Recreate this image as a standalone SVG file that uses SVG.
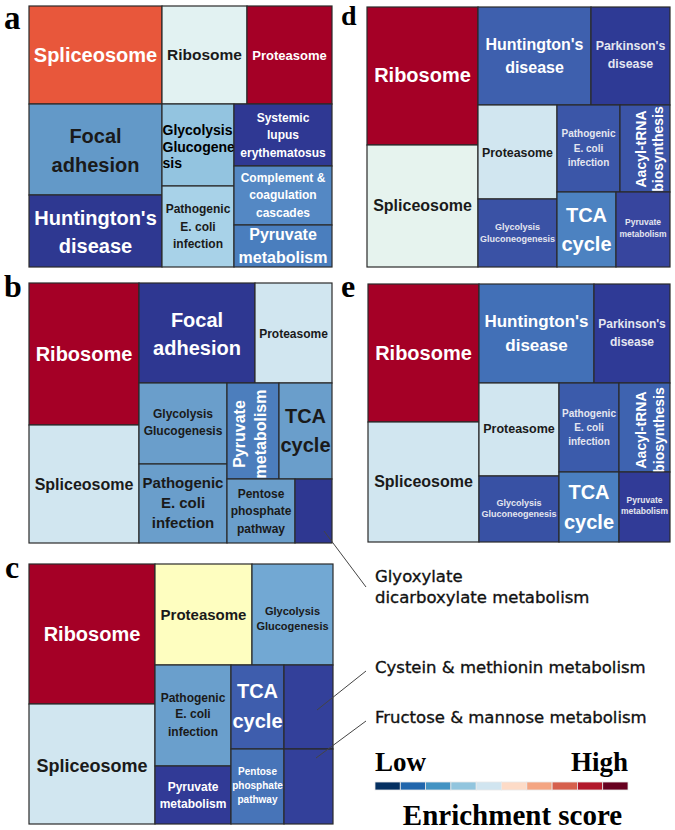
<svg xmlns="http://www.w3.org/2000/svg" width="675" height="830" viewBox="0 0 675 830">
<style>
text{font-family:"Liberation Sans",Arial,sans-serif;font-weight:bold;text-anchor:middle}
.w{fill:#fff}.k{fill:#1a1a1a}.l{fill:#e4e6f0}.s{text-anchor:start}
rect.b{stroke:#2a2a2a;stroke-width:1.2}
.lab{font-family:"Liberation Serif","Times New Roman",serif;font-weight:bold;fill:#000;text-anchor:start}
.leg{font-family:"DejaVu Sans",sans-serif;font-weight:normal;fill:#111;stroke:#111;stroke-width:0.35;text-anchor:start;font-size:16.5px}
.con{stroke:#444;stroke-width:1;fill:none}
.bar{stroke:#e8e8e8;stroke-width:0.8}
</style>
<rect width="675" height="830" fill="#fff"/>

<!-- Panel a -->
<g id="panel-a">
<text class="lab" x="4" y="29" font-size="33">a</text>
<g id="a-spliceosome"><rect class="b" x="29" y="6" width="133" height="98" fill="#E8573B"/><text class="w" x="95.5" y="62" font-size="20">Spliceosome</text></g>
<g id="a-ribosome"><rect class="b" x="162" y="6" width="85" height="98" fill="#E2F2F2"/><text class="k" x="204.5" y="60" font-size="15.5">Ribosome</text></g>
<g id="a-proteasome"><rect class="b" x="247" y="6" width="85" height="98" fill="#A50026"/><text class="w" x="289.5" y="60" font-size="13">Proteasome</text></g>
<g id="a-focal"><rect class="b" x="29" y="104" width="133" height="91" fill="#6399C8"/><text class="k" x="95.5" y="143" font-size="20">Focal</text><text class="k" x="95.5" y="172" font-size="20">adhesion</text></g>
<g id="a-huntington"><rect class="b" x="29" y="195" width="133" height="72" fill="#2E3891"/><text class="w" x="95.5" y="225" font-size="20">Huntington's</text><text class="w" x="95.5" y="253" font-size="20">disease</text></g>
<g id="a-glycolysis"><rect class="b" x="162" y="104" width="72" height="82" fill="#93C4E0"/><text class="s" fill="#000" x="162.5" y="135" font-size="14">Glycolysis</text><text class="s" fill="#000" x="162.5" y="152" font-size="14">Glucogene</text><text class="s" fill="#000" x="162.5" y="168" font-size="14">sis</text></g>
<g id="a-pathogenic"><rect class="b" x="162" y="186" width="72" height="81" fill="#A8D2E8"/><text class="k" x="198" y="213" font-size="12">Pathogenic</text><text class="k" x="198" y="231" font-size="12">E. coli</text><text class="k" x="198" y="248" font-size="12">infection</text></g>
<g id="a-systemic"><rect class="b" x="234" y="104" width="98" height="62" fill="#2F3893"/><text class="w" x="283" y="122" font-size="12">Systemic</text><text class="w" x="283" y="139" font-size="12">lupus</text><text class="w" x="283" y="157" font-size="12">erythematosus</text></g>
<g id="a-complement"><rect class="b" x="234" y="166" width="98" height="59" fill="#5488C4"/><text class="w" x="283" y="182" font-size="12">Complement &amp;</text><text class="w" x="283" y="199" font-size="12">coagulation</text><text class="w" x="283" y="217" font-size="12">cascades</text></g>
<g id="a-pyruvate"><rect class="b" x="234" y="225" width="98" height="42" fill="#4A7EBE"/><text class="w" x="283" y="240" font-size="16">Pyruvate</text><text class="w" x="283" y="263" font-size="16">metabolism</text></g>
</g>

<!-- Panel b -->
<g id="panel-b">
<text class="lab" x="4" y="297" font-size="32">b</text>
<g id="b-ribosome"><rect class="b" x="29" y="283" width="110" height="142" fill="#A50026"/><text class="w" x="84" y="361" font-size="20">Ribosome</text></g>
<g id="b-spliceosome"><rect class="b" x="29" y="425" width="110" height="118" fill="#D1E6F0"/><text class="k" x="84" y="490" font-size="16">Spliceosome</text></g>
<g id="b-focal"><rect class="b" x="139" y="283" width="116" height="100" fill="#2E3791"/><text class="w" x="197" y="327" font-size="20">Focal</text><text class="w" x="197" y="355" font-size="20">adhesion</text></g>
<g id="b-proteasome"><rect class="b" x="255" y="283" width="77" height="100" fill="#D1E6F0"/><text class="k" x="293.5" y="338" font-size="12">Proteasome</text></g>
<g id="b-glycolysis"><rect class="b" x="139" y="383" width="88" height="81" fill="#6A9ECB"/><text class="k" x="183" y="418" font-size="12">Glycolysis</text><text class="k" x="183" y="435" font-size="12">Glucogenesis</text></g>
<g id="b-pathogenic"><rect class="b" x="139" y="464" width="88" height="79" fill="#6A9ECB"/><text class="k" x="183" y="488" font-size="15">Pathogenic</text><text class="k" x="183" y="508" font-size="15">E. coli</text><text class="k" x="183" y="528" font-size="15">infection</text></g>
<g id="b-pyruvate"><rect class="b" x="227" y="383" width="52" height="96" fill="#4C7EBD"/><text class="w" transform="translate(245,434) rotate(-90)" font-size="16">Pyruvate</text><text class="w" transform="translate(266,434) rotate(-90)" font-size="16">metabolism</text></g>
<g id="b-tca"><rect class="b" x="279" y="383" width="53" height="96" fill="#6A9ECB"/><text class="k" x="305.5" y="423" font-size="20">TCA</text><text class="k" x="305.5" y="452" font-size="20">cycle</text></g>
<g id="b-pentose"><rect class="b" x="227" y="479" width="68" height="64" fill="#6A9ECB"/><text class="k" x="261" y="498" font-size="12">Pentose</text><text class="k" x="261" y="515" font-size="12">phosphate</text><text class="k" x="261" y="533" font-size="12">pathway</text></g>
<g id="b-glyoxylate"><rect class="b" x="295" y="479" width="37" height="64" fill="#2E3791"/></g>
</g>

<!-- Panel c -->
<g id="panel-c">
<text class="lab" x="5" y="578" font-size="32">c</text>
<g id="c-ribosome"><rect class="b" x="29" y="564" width="126" height="140" fill="#A50026"/><text class="w" x="92" y="641" font-size="20">Ribosome</text></g>
<g id="c-spliceosome"><rect class="b" x="29" y="704" width="126" height="120" fill="#D1E6F0"/><text class="k" x="92" y="772" font-size="18">Spliceosome</text></g>
<g id="c-proteasome"><rect class="b" x="155" y="564" width="97" height="101" fill="#FEFEC0"/><text class="k" x="203.5" y="620" font-size="15">Proteasome</text></g>
<g id="c-glycolysis"><rect class="b" x="252" y="564" width="81" height="101" fill="#72A8D3"/><text class="k" x="292.5" y="615" font-size="11">Glycolysis</text><text class="k" x="292.5" y="630" font-size="11">Glucogenesis</text></g>
<g id="c-pathogenic"><rect class="b" x="155" y="665" width="76" height="101" fill="#6A9FCC"/><text class="k" x="193" y="702" font-size="12">Pathogenic</text><text class="k" x="193" y="718" font-size="12">E. coli</text><text class="k" x="193" y="736" font-size="12">infection</text></g>
<g id="c-pyruvate"><rect class="b" x="155" y="766" width="76" height="58" fill="#313A96"/><text class="w" x="193" y="791" font-size="12">Pyruvate</text><text class="w" x="193" y="808" font-size="12">metabolism</text></g>
<g id="c-tca"><rect class="b" x="231" y="665" width="53" height="84" fill="#3E5DAD"/><text class="w" x="257.5" y="698" font-size="20">TCA</text><text class="w" x="257.5" y="728" font-size="20">cycle</text></g>
<g id="c-pentose"><rect class="b" x="231" y="749" width="53" height="75" fill="#4774B8"/><text class="w" x="257.5" y="775" font-size="10">Pentose</text><text class="w" x="257.5" y="789" font-size="10">phosphate</text><text class="w" x="257.5" y="803" font-size="10">pathway</text></g>
<g id="c-cystein"><rect class="b" x="284" y="665" width="49" height="84" fill="#33409A"/></g>
<g id="c-fructose"><rect class="b" x="284" y="749" width="49" height="75" fill="#33409A"/></g>
</g>

<!-- Panel d -->
<g id="panel-d">
<text class="lab" x="341" y="25" font-size="28">d</text>
<g id="d-ribosome"><rect class="b" x="367" y="7" width="111" height="138" fill="#A50026"/><text class="w" x="422.5" y="82" font-size="20">Ribosome</text></g>
<g id="d-spliceosome"><rect class="b" x="367" y="145" width="111" height="122" fill="#E6F3EE"/><text class="k" x="422.5" y="211" font-size="16">Spliceosome</text></g>
<g id="d-huntington"><rect class="b" x="478" y="7" width="113" height="98" fill="#3E60AE"/><text class="w" x="534.5" y="50" font-size="16">Huntington's</text><text class="w" x="534.5" y="73" font-size="16">disease</text></g>
<g id="d-parkinson"><rect class="b" x="591" y="7" width="79" height="98" fill="#2E3A95"/><text class="l" x="630.5" y="50" font-size="12.4">Parkinson's</text><text class="l" x="630.5" y="68" font-size="12.4">disease</text></g>
<g id="d-proteasome"><rect class="b" x="478" y="105" width="79" height="94" fill="#D1E6F0"/><text class="k" x="517.5" y="157" font-size="12.4">Proteasome</text></g>
<g id="d-pathogenic"><rect class="b" x="557" y="105" width="63" height="87" fill="#3B56A8"/><text class="l" x="588.5" y="137" font-size="10">Pathogenic</text><text class="l" x="588.5" y="152" font-size="10">E. coli</text><text class="l" x="588.5" y="166" font-size="10">infection</text></g>
<g id="d-aacyl"><rect class="b" x="620" y="105" width="50" height="87" fill="#3B54A7"/><text class="w" transform="translate(646,149) rotate(-90)" font-size="14">Aacyl-tRNA</text><text class="w" transform="translate(663,149) rotate(-90)" font-size="14">biosynthesis</text></g>
<g id="d-glycolysis"><rect class="b" x="478" y="199" width="79" height="68" fill="#3A52A5"/><text class="l" x="517.5" y="230" font-size="9">Glycolysis</text><text class="l" x="517.5" y="242" font-size="9">Gluconeogenesis</text></g>
<g id="d-tca"><rect class="b" x="557" y="192" width="59" height="75" fill="#4C82C1"/><text class="w" x="586.5" y="222" font-size="20">TCA</text><text class="w" x="586.5" y="251" font-size="20">cycle</text></g>
<g id="d-pyruvate"><rect class="b" x="616" y="192" width="54" height="75" fill="#37459E"/><text class="l" x="643" y="225" font-size="8.5">Pyruvate</text><text class="l" x="643" y="237" font-size="8.5">metabolism</text></g>
</g>

<!-- Panel e -->
<g id="panel-e">
<text class="lab" x="341" y="297" font-size="32">e</text>
<g id="e-ribosome"><rect class="b" x="368" y="284" width="111" height="138" fill="#A50026"/><text class="w" x="423.5" y="360" font-size="20">Ribosome</text></g>
<g id="e-spliceosome"><rect class="b" x="368" y="422" width="111" height="120" fill="#D1E6F0"/><text class="k" x="423.5" y="487" font-size="16">Spliceosome</text></g>
<g id="e-huntington"><rect class="b" x="479" y="284" width="115" height="99" fill="#4270B7"/><text class="w" x="536.5" y="327" font-size="17">Huntington's</text><text class="w" x="536.5" y="351" font-size="17">disease</text></g>
<g id="e-parkinson"><rect class="b" x="594" y="284" width="76" height="99" fill="#2F3A96"/><text class="l" x="632" y="328" font-size="12">Parkinson's</text><text class="l" x="632" y="346" font-size="12">disease</text></g>
<g id="e-proteasome"><rect class="b" x="479" y="383" width="80" height="93" fill="#D1E6F0"/><text class="k" x="519" y="433" font-size="12.5">Proteasome</text></g>
<g id="e-pathogenic"><rect class="b" x="559" y="383" width="60" height="89" fill="#3B5BAB"/><text class="l" x="589" y="417" font-size="10">Pathogenic</text><text class="l" x="589" y="431" font-size="10">E. coli</text><text class="l" x="589" y="445" font-size="10">infection</text></g>
<g id="e-aacyl"><rect class="b" x="619" y="383" width="51" height="89" fill="#3E63B0"/><text class="w" transform="translate(646,430) rotate(-90)" font-size="14">Aacyl-tRNA</text><text class="w" transform="translate(664,430) rotate(-90)" font-size="14">biosynthesis</text></g>
<g id="e-glycolysis"><rect class="b" x="479" y="476" width="80" height="66" fill="#3851A4"/><text class="l" x="519" y="506" font-size="9">Glycolysis</text><text class="l" x="519" y="517" font-size="9">Gluconeogenesis</text></g>
<g id="e-tca"><rect class="b" x="559" y="472" width="60" height="70" fill="#4A7FC0"/><text class="w" x="589" y="499" font-size="20">TCA</text><text class="w" x="589" y="529" font-size="20">cycle</text></g>
<g id="e-pyruvate"><rect class="b" x="619" y="472" width="51" height="70" fill="#313B97"/><text class="l" x="644.5" y="503" font-size="8.5">Pyruvate</text><text class="l" x="644.5" y="514" font-size="8.5">metabolism</text></g>
</g>

<!-- Connectors -->
<g id="connectors">
<line class="con" x1="324" y1="531" x2="366" y2="587"/>
<line class="con" x1="317" y1="710" x2="366" y2="671"/>
<line class="con" x1="316" y1="758" x2="366" y2="721"/>
</g>

<!-- Callout labels -->
<g id="callouts">
<text class="leg" x="375" y="582">Glyoxylate</text>
<text class="leg" x="375" y="603">dicarboxylate metabolism</text>
<text class="leg" x="375" y="673">Cystein &amp; methionin metabolism</text>
<text class="leg" x="375" y="723">Fructose &amp; mannose metabolism</text>
</g>

<!-- Legend -->
<g id="legend">
<text class="lab" x="375" y="771" font-size="27">Low</text>
<text class="lab" x="628" y="771" font-size="27" style="text-anchor:end">High</text>
<rect class="bar" x="375" y="782" width="25.3" height="8" fill="#053061"/>
<rect class="bar" x="400.3" y="782" width="25.3" height="8" fill="#2166AC"/>
<rect class="bar" x="425.6" y="782" width="25.3" height="8" fill="#4393C3"/>
<rect class="bar" x="450.9" y="782" width="25.3" height="8" fill="#92C5DE"/>
<rect class="bar" x="476.2" y="782" width="25.3" height="8" fill="#D1E5F0"/>
<rect class="bar" x="501.5" y="782" width="25.3" height="8" fill="#FDDBC7"/>
<rect class="bar" x="526.8" y="782" width="25.3" height="8" fill="#F4A582"/>
<rect class="bar" x="552.1" y="782" width="25.3" height="8" fill="#D6604D"/>
<rect class="bar" x="577.4" y="782" width="25.3" height="8" fill="#B2182B"/>
<rect class="bar" x="602.7" y="782" width="25.3" height="8" fill="#67001F"/>
<text class="lab" x="512.5" y="825" font-size="29" style="text-anchor:middle">Enrichment score</text>
</g>
</svg>
